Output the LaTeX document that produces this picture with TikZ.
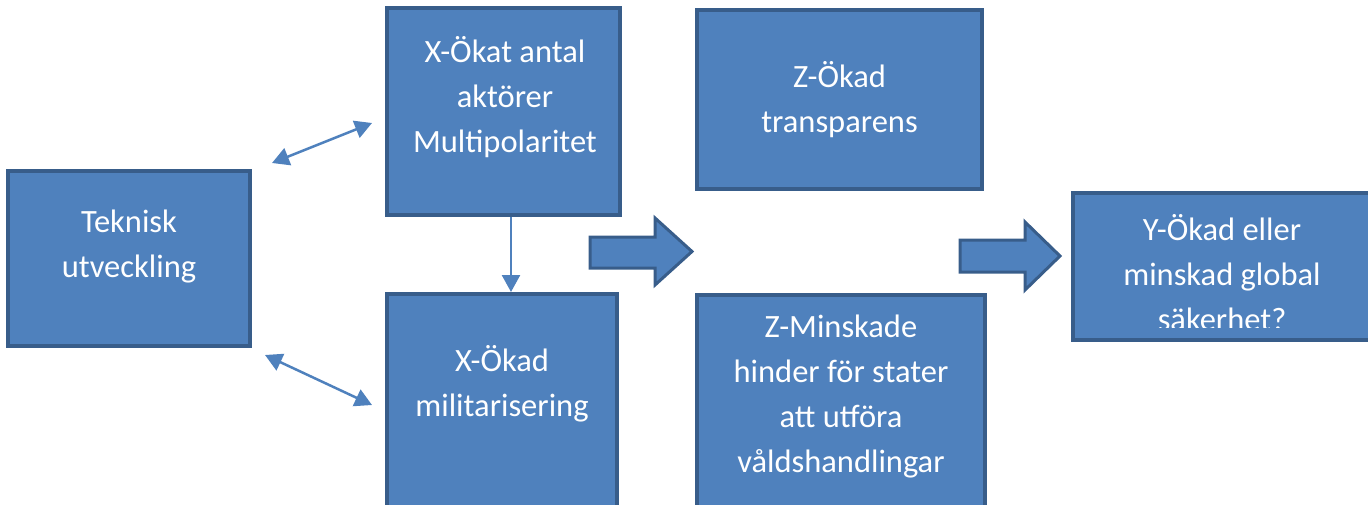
\documentclass[tikz,border=0pt]{standalone}
\usepackage{fontspec}
\setmainfont{Carlito}
\usetikzlibrary{calc,positioning,arrows.meta}

\definecolor{boxfill}{HTML}{4F81BD}
\definecolor{boxline}{HTML}{385D8A}

\tikzset{
	box/.style={draw=boxline, fill=boxfill, line width=3.5pt, inner sep=0pt},
	boxtext/.style={text=white, align=center, font=\fontsize{32.5}{45}\selectfont},
	smallarrow/.style={boxfill, line width=2.5pt, {Triangle[length=17pt,width=18pt]}-{Triangle[length=17pt,width=18pt]}},
	blockarrow/.style={draw=boxline, fill=boxfill, line width=3pt, line join=miter}
}

\begin{document}
\begin{tikzpicture}[x=1pt,y=-1pt]
		\useasboundingbox (0,0) rectangle (1368,504);

		\node[box, minimum width=242, minimum height=175] (tek) at (129,258.5) {};
		\node[boxtext] (tekt) at (129,247) {Teknisk\\utveckling};

		\node[box, minimum width=233, minimum height=207] (akt) at (503.5,111.5) {};
		\node[boxtext] (aktt) at (505,97) {X-Ökat antal\\aktörer\\Multipolaritet};

		\node[box, minimum width=230, minimum height=240, anchor=north] (mil) at (502,292) {};
		\node[boxtext] (milt) at (502,384) {X-Ökad\\militarisering};

		\node[box, minimum width=285, minimum height=179] (tra) at (839.5,99.5) {};
		\node[boxtext] (trat) at (tra.center) {Z-Ökad\\transparens};

		\node[box, minimum width=288, minimum height=240, anchor=north] (hin) at (841,293) {};
		\node[boxtext] (hint) at (841,397) {Z-Minskade\\hinder för stater\\att utföra\\våldshandlingar};

		\node[box, minimum width=298, minimum height=147] (sak) at (1222,266.5) {};
		\begin{scope}
			\clip (1075,195) rectangle (1368,327);
			\node[boxtext] (sakt) at (1222,273) {Y-Ökad eller\\minskad global\\säkerhet?};
		\end{scope}

		% small connectors
		\coordinate (a1s) at (272,163);
		\coordinate (a1e) at (372,123);
		\coordinate (a2s) at (265,355);
		\coordinate (a2e) at (372,405);
		\coordinate (vx) at (511,0);
		\draw[smallarrow] (a1s) -- (a1e);
		\draw[smallarrow] (a2s) -- (a2e);
		\draw[boxfill, line width=2.5pt, -{Triangle[length=17pt,width=18pt]}] (akt.south -| vx) -- (mil.north -| vx);

		% block arrows
		\draw[blockarrow] (590,237) -- (655,237) -- (655,218) -- (692,251.5) -- (655,285) -- (655,268) -- (590,268) -- cycle;
		\draw[blockarrow] (960,240) -- (1025,240) -- (1025,222) -- (1060,256) -- (1025,290) -- (1025,272) -- (960,272) -- cycle;
	\end{tikzpicture}
\end{document}
